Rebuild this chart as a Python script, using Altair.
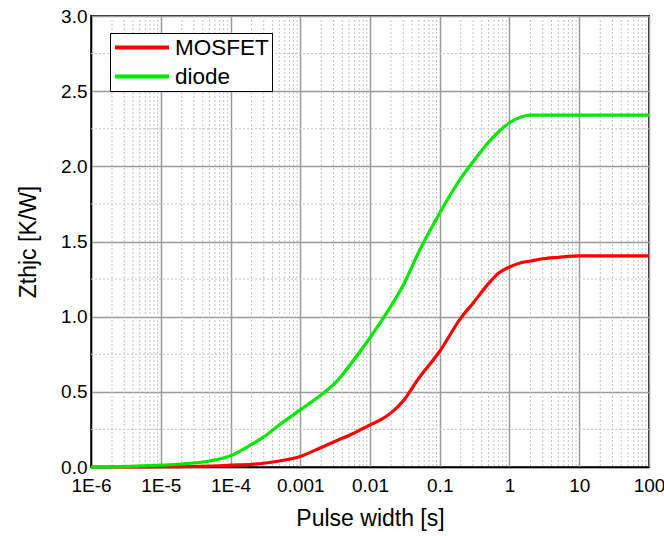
import altair as alt
import pandas as pd

# Transient thermal impedance curves, junction to case
pulse_s = [1e-6, 3e-6, 1e-5, 2e-5, 5e-5, 1e-4, 2e-4, 3e-4, 5e-4, 1e-3, 2e-3, 3.5e-3,
           5e-3, 1e-2, 1.5e-2, 2e-2, 3e-2, 5e-2, 0.1, 0.2, 0.3, 0.5, 0.7, 1,
           1.5, 2, 3, 5, 10, 20, 50, 100]
zth_mosfet = [0, 0, 0.002, 0.003, 0.006, 0.012, 0.018, 0.025, 0.04, 0.07, 0.13, 0.18,
              0.21, 0.28, 0.32, 0.36, 0.44, 0.59, 0.77, 0.99, 1.09, 1.22, 1.29, 1.33,
              1.36, 1.37, 1.385, 1.395, 1.405, 1.405, 1.405, 1.405]
zth_diode = [0, 0.003, 0.012, 0.02, 0.04, 0.075, 0.15, 0.2, 0.28, 0.38, 0.48, 0.58,
             0.67, 0.86, 0.98, 1.07, 1.21, 1.43, 1.69, 1.92, 2.03, 2.16, 2.23, 2.29,
             2.33, 2.34, 2.34, 2.34, 2.34, 2.34, 2.34, 2.34]

series_names = ["MOSFET", "diode"]
series_colors = ["#ff0000", "#00e800"]

# Axis ticks and grid positions
x_major = [1e-6, 1e-5, 1e-4, 1e-3, 1e-2, 1e-1, 1, 10, 100]
x_tick_labels = ["1E-6", "1E-5", "1E-4", "0.001", "0.01", "0.1", "1", "10", "100"]
y_major = [0, 0.5, 1.0, 1.5, 2.0, 2.5, 3.0]
x_minor = [k * 10.0 ** e for e in range(-6, 2) for k in range(2, 10)]
y_minor = [0.25, 0.75, 1.25, 1.75, 2.25, 2.75]

curves = pd.concat([
    pd.DataFrame({"t": pulse_s, "zth": zth_mosfet, "part": "MOSFET"}),
    pd.DataFrame({"t": pulse_s, "zth": zth_diode, "part": "diode"}),
])

FONT = "Liberation Sans"

x_scale = alt.Scale(type="log", domain=[1e-6, 100], nice=False)
y_scale = alt.Scale(domain=[0, 3], nice=False)

label_expr = ("[" + ",".join(f"'{t}'" for t in x_tick_labels) +
              "][round(log(datum.value) / LN10) + 6]")

x_axis = alt.Axis(values=x_major, labelExpr=label_expr, title="Pulse width [s]",
                  grid=True, ticks=False, labelPadding=9, titlePadding=12,
                  labelFlush=False, labelOverlap=False)
y_axis = alt.Axis(values=y_major, format=".1f", title="Zthjc [K/W]",
                  grid=True, ticks=False, labelPadding=4, titlePadding=20)

minor_x = alt.Chart(pd.DataFrame({"t": x_minor})).mark_rule(
    color="#c4c4c4", strokeWidth=1, strokeDash=[2, 2]
).encode(x=alt.X("t:Q", scale=x_scale, axis=x_axis))

minor_y = alt.Chart(pd.DataFrame({"zth": y_minor})).mark_rule(
    color="#c4c4c4", strokeWidth=1, strokeDash=[2, 2]
).encode(y=alt.Y("zth:Q", scale=y_scale, axis=y_axis))

lines = alt.Chart(curves).mark_line(strokeWidth=3.2, interpolate="monotone").encode(
    x=alt.X("t:Q", scale=x_scale, axis=x_axis),
    y=alt.Y("zth:Q", scale=y_scale, axis=y_axis),
    color=alt.Color(
        "part:N",
        scale=alt.Scale(domain=series_names, range=series_colors),
        sort=series_names,
        legend=alt.Legend(
            title=None, orient="none", legendX=19, legendY=17,
            symbolType="stroke", symbolSize=2916, symbolStrokeWidth=4,
            clipHeight=23, rowPadding=6, padding=3, labelOffset=4,
            labelFontSize=22.5, labelFont=FONT, labelColor="#000",
            strokeColor="#000", fillColor="#fff",
        ),
    ),
)

chart = alt.layer(minor_x, minor_y, lines).properties(
    width=558, height=451,
    autosize=alt.AutoSizeParams(type="none"),
    padding={"left": 91, "top": 16, "right": 15, "bottom": 69},
).configure_view(
    stroke="#222", strokeWidth=2
).configure_axis(
    labelFont=FONT, labelFontSize=19, labelColor="#000",
    titleFont=FONT, titleFontSize=23, titleColor="#000", titleFontWeight="normal",
    gridColor="#9a9a9a", gridWidth=1.5,
    domainColor="#000", domainWidth=1.5,
)

chart.save("out.html", embed_options={"renderer": "svg", "actions": False})
